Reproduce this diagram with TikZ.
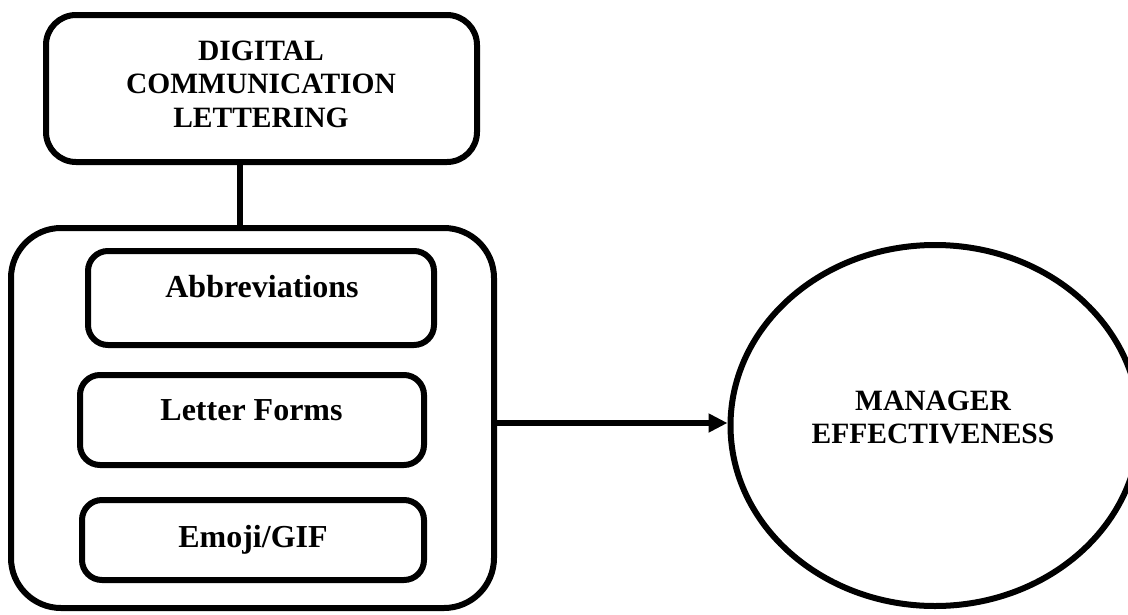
\documentclass[tikz,border=0pt]{standalone}
\usepackage{fontspec}
\setmainfont{Liberation Serif}
\usetikzlibrary{arrows.meta,shapes.geometric}
\begin{document}
\begin{tikzpicture}[x=1pt,y=-1pt,
  rbox/.style={draw,line width=6pt,rounded corners=#1,inner sep=0pt},
  capstext/.style={font=\bfseries\fontsize{29.5}{33.5}\selectfont,align=center,inner sep=0pt},
  lbltext/.style={font=\bfseries\fontsize{32}{38}\selectfont,inner sep=0pt,anchor=base},
  conn/.style={line width=5.5pt}
]
\useasboundingbox (0,0) rectangle (1128,614);
% top box
\node[rbox=30pt,minimum width=431pt,minimum height=147pt] (top) at (261.5,88.5) {};
\node[capstext] (toptext) at (261,84) {DIGITAL\\COMMUNICATION\\LETTERING};
% container
\node[rbox=50pt,minimum width=483pt,minimum height=380pt] (cont) at (252.5,418) {};
% inner boxes
\node[rbox=20pt,minimum width=346pt,minimum height=94pt] (abbr) at (261,298) {};
\node[lbltext] (abbrtext) at (262,297) {Abbreviations};
\node[rbox=20pt,minimum width=344pt,minimum height=90pt] (letter) at (252,420) {};
\node[lbltext] (lettertext) at (251.5,420) {Letter Forms};
\node[rbox=20pt,minimum width=342pt,minimum height=80pt] (emoji) at (253,540) {};
\node[lbltext] (emojitext) at (253,547) {Emoji/GIF};
% ellipse
\node[ellipse,draw,line width=6pt,minimum width=409pt,minimum height=361pt,inner sep=0pt] (me) at (935,425.5) {};
\node[capstext] (metext) at (933,417.5) {MANAGER\\EFFECTIVENESS};
% connectors
\draw[conn] ([xshift=-21.5pt]top.south) -- ([xshift=-12.5pt]cont.north);
\draw[conn,-{Triangle[length=19pt,width=18pt]}] ([yshift=-5pt]cont.east) -- ([yshift=2.5pt]me.west);
\end{tikzpicture}
\end{document}
